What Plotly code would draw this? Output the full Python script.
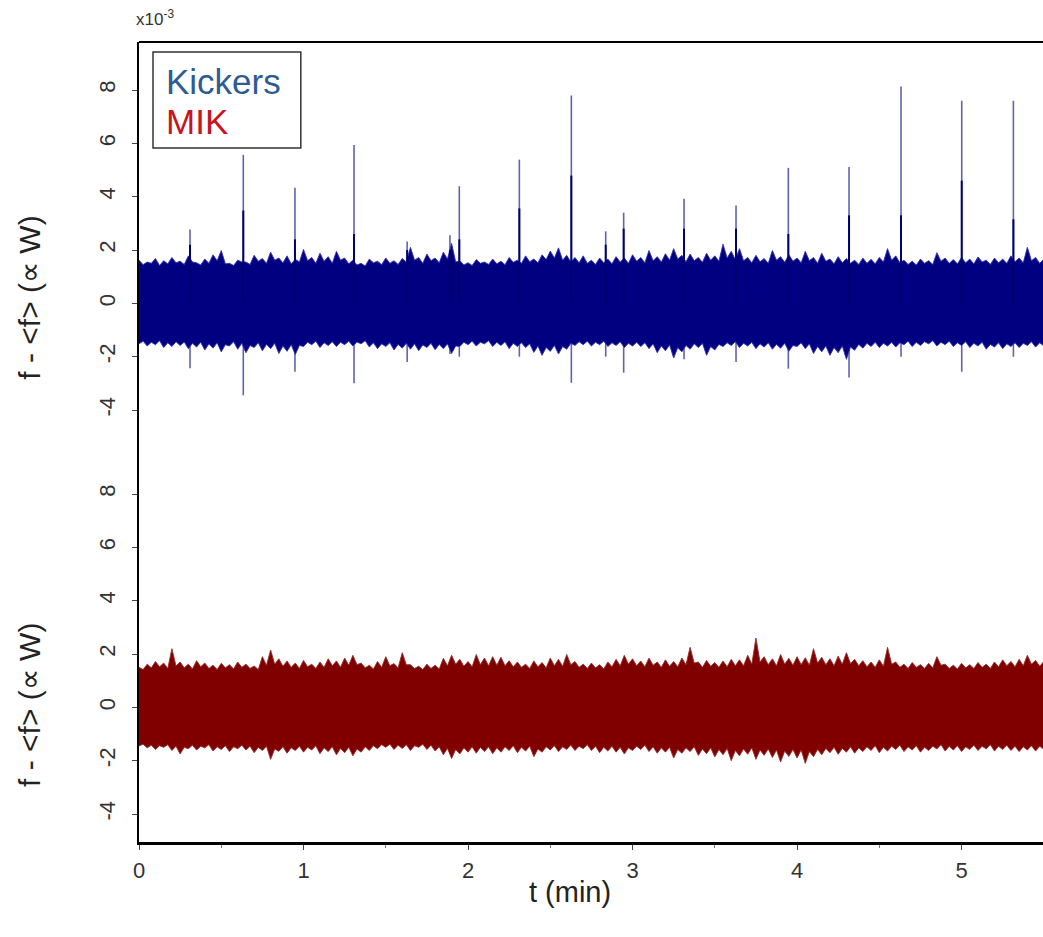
import plotly.graph_objects as go
from plotly.subplots import make_subplots

# ---------------- data (values in units of 1e-3) ----------------
T_STEP = 0.025
N_SAMPLES = 221
t_grid = [round(i * T_STEP, 3) for i in range(N_SAMPLES)]

kick_upper = [
    1.62, 1.45, 1.55, 1.50, 1.68, 1.42, 1.60, 1.48, 1.72, 1.52,
    1.58, 1.46, 1.78, 1.55, 1.52, 1.44, 1.66, 1.50, 1.82, 1.60,
    1.98, 1.48, 1.50, 1.42, 1.62, 1.55, 1.55, 1.46, 1.80, 1.58,
    1.68, 1.50, 1.92, 1.62, 1.70, 1.52, 1.78, 1.48, 1.65, 1.55,
    2.02, 1.60, 1.72, 1.50, 1.88, 1.58, 1.75, 1.50, 1.95, 1.62,
    1.70, 1.48, 1.62, 1.44, 1.50, 1.40, 1.66, 1.52, 1.58, 1.45,
    1.70, 1.50, 1.60, 1.46, 1.68, 1.55, 2.10, 1.62, 1.72, 1.50,
    1.85, 1.60, 1.70, 1.52, 1.92, 1.66, 2.25, 1.55, 1.60, 1.44,
    1.52, 1.42, 1.64, 1.50, 1.55, 1.46, 1.66, 1.48, 1.58, 1.45,
    1.72, 1.54, 1.62, 1.50, 1.78, 1.56, 1.66, 1.52, 1.82, 1.64,
    1.96, 1.70, 2.08, 1.62, 1.80, 1.55, 1.72, 1.52, 1.78, 1.50,
    1.62, 1.46, 1.70, 1.52, 1.66, 1.48, 1.75, 1.55, 1.70, 1.50,
    1.82, 1.58, 1.72, 1.52, 1.98, 1.60, 1.75, 1.55, 1.86, 1.62,
    2.05, 1.66, 1.80, 1.56, 1.85, 1.60, 1.72, 1.54, 1.88, 1.62,
    1.78, 1.58, 2.22, 1.70, 1.95, 1.64, 2.05, 1.60, 1.72, 1.52,
    1.80, 1.56, 1.68, 1.50, 1.98, 1.62, 1.75, 1.54, 1.82, 1.58,
    1.70, 1.52, 1.95, 1.60, 1.72, 1.50, 1.88, 1.58, 1.66, 1.48,
    1.75, 1.52, 1.68, 1.50, 1.62, 1.46, 1.70, 1.50, 1.65, 1.48,
    1.72, 1.55, 2.05, 1.62, 1.78, 1.52, 1.62, 1.46, 1.58, 1.44,
    1.66, 1.50, 1.60, 1.46, 1.90, 1.58, 1.70, 1.50, 1.64, 1.48,
    1.72, 1.52, 1.66, 1.48, 1.74, 1.55, 1.62, 1.46, 1.70, 1.52,
    1.66, 1.50, 1.78, 1.56, 1.70, 1.52, 2.10, 1.60, 1.72, 1.50,
    1.66]
kick_lower = [
    -1.52, -1.42, -1.60, -1.46, -1.55, -1.40, -1.66, -1.48, -1.62, -1.44,
    -1.58, -1.45, -1.70, -1.50, -1.64, -1.46, -1.75, -1.52, -1.68, -1.48,
    -1.82, -1.55, -1.60, -1.44, -1.72, -1.50, -1.85, -1.58, -1.66, -1.48,
    -1.78, -1.54, -1.70, -1.50, -1.88, -1.60, -1.80, -1.55, -1.92, -1.58,
    -1.62, -1.46, -1.55, -1.42, -1.66, -1.48, -1.58, -1.44, -1.62, -1.46,
    -1.55, -1.42, -1.60, -1.45, -1.52, -1.40, -1.64, -1.48, -1.70, -1.52,
    -1.62, -1.48, -1.75, -1.54, -1.68, -1.50, -1.72, -1.52, -1.78, -1.56,
    -1.66, -1.50, -1.74, -1.54, -1.70, -1.52, -1.88, -1.60, -1.62, -1.46,
    -1.55, -1.42, -1.60, -1.46, -1.52, -1.40, -1.62, -1.46, -1.58, -1.44,
    -1.70, -1.50, -1.62, -1.48, -1.66, -1.52, -1.84, -1.60, -1.95, -1.66,
    -1.80, -1.58, -1.90, -1.62, -1.72, -1.50, -1.58, -1.44, -1.55, -1.42,
    -1.60, -1.46, -1.55, -1.42, -1.62, -1.48, -1.58, -1.44, -1.66, -1.50,
    -1.60, -1.46, -1.62, -1.48, -1.70, -1.52, -1.85, -1.60, -1.78, -1.56,
    -2.05, -1.66, -1.82, -1.58, -1.72, -1.52, -1.66, -1.50, -1.95, -1.62,
    -1.75, -1.54, -1.62, -1.48, -1.58, -1.44, -1.66, -1.50, -1.60, -1.46,
    -1.70, -1.52, -1.64, -1.48, -1.72, -1.54, -1.68, -1.50, -1.80, -1.58,
    -1.62, -1.48, -1.70, -1.52, -1.88, -1.62, -1.82, -1.60, -1.95, -1.66,
    -1.85, -1.60, -2.10, -1.64, -1.76, -1.54, -1.68, -1.50, -1.62, -1.46,
    -1.66, -1.50, -1.60, -1.46, -1.64, -1.48, -1.55, -1.42, -1.62, -1.46,
    -1.58, -1.44, -1.52, -1.40, -1.60, -1.46, -1.55, -1.42, -1.62, -1.48,
    -1.58, -1.44, -1.66, -1.50, -1.60, -1.46, -1.72, -1.54, -1.64, -1.48,
    -1.70, -1.52, -1.62, -1.48, -1.66, -1.50, -1.58, -1.44, -1.64, -1.48,
    -1.60]

mik_upper = [
    1.50, 1.42, 1.62, 1.48, 1.72, 1.52, 1.66, 1.46, 2.20, 1.55,
    1.70, 1.48, 1.62, 1.44, 1.75, 1.52, 1.66, 1.46, 1.58, 1.42,
    1.65, 1.48, 1.60, 1.44, 1.70, 1.50, 1.62, 1.46, 1.55, 1.42,
    1.90, 1.58, 2.15, 1.62, 1.82, 1.54, 1.74, 1.50, 1.66, 1.46,
    1.76, 1.52, 1.62, 1.46, 1.70, 1.50, 1.82, 1.56, 1.74, 1.50,
    1.85, 1.58, 1.95, 1.60, 1.66, 1.48, 1.58, 1.44, 1.72, 1.50,
    1.90, 1.56, 1.64, 1.48, 2.05, 1.60, 1.60, 1.46, 1.54, 1.42,
    1.62, 1.46, 1.58, 1.44, 1.84, 1.56, 1.95, 1.62, 1.80, 1.54,
    1.72, 1.52, 1.98, 1.60, 1.85, 1.56, 1.90, 1.58, 1.88, 1.56,
    1.75, 1.52, 1.70, 1.50, 1.62, 1.46, 1.74, 1.52, 1.68, 1.48,
    1.85, 1.56, 1.80, 1.54, 1.98, 1.60, 1.72, 1.50, 1.62, 1.46,
    1.66, 1.48, 1.60, 1.44, 1.70, 1.52, 1.80, 1.56, 1.95, 1.62,
    1.82, 1.56, 1.74, 1.52, 1.85, 1.58, 1.70, 1.50, 1.78, 1.54,
    1.72, 1.52, 1.85, 1.60, 2.25, 1.66, 1.70, 1.50, 1.76, 1.54,
    1.68, 1.50, 1.74, 1.52, 1.80, 1.56, 1.78, 1.56, 1.95, 1.62,
    2.60, 1.70, 1.90, 1.60, 1.82, 1.56, 1.98, 1.62, 1.84, 1.58,
    1.90, 1.60, 1.86, 1.58, 2.20, 1.66, 1.88, 1.60, 1.82, 1.56,
    1.92, 1.62, 2.05, 1.64, 1.80, 1.56, 1.75, 1.52, 1.70, 1.50,
    1.78, 1.54, 2.25, 1.62, 1.70, 1.50, 1.62, 1.46, 1.68, 1.50,
    1.60, 1.46, 1.65, 1.48, 1.90, 1.58, 1.62, 1.46, 1.58, 1.44,
    1.65, 1.48, 1.60, 1.46, 1.68, 1.50, 1.62, 1.46, 1.70, 1.52,
    1.78, 1.56, 1.72, 1.52, 1.80, 1.56, 1.95, 1.62, 1.76, 1.54,
    1.72]
mik_lower = [
    -1.45, -1.38, -1.52, -1.42, -1.58, -1.44, -1.50, -1.40, -1.62, -1.46,
    -1.75, -1.50, -1.55, -1.42, -1.60, -1.46, -1.52, -1.40, -1.64, -1.48,
    -1.58, -1.44, -1.66, -1.48, -1.55, -1.42, -1.60, -1.46, -1.70, -1.50,
    -1.62, -1.46, -1.95, -1.56, -1.65, -1.48, -1.72, -1.52, -1.62, -1.46,
    -1.68, -1.50, -1.60, -1.44, -1.74, -1.52, -1.66, -1.48, -1.78, -1.54,
    -1.70, -1.50, -1.82, -1.56, -1.68, -1.48, -1.62, -1.44, -1.55, -1.40,
    -1.50, -1.38, -1.58, -1.42, -1.54, -1.40, -1.62, -1.44, -1.50, -1.38,
    -1.58, -1.42, -1.64, -1.48, -1.78, -1.54, -1.92, -1.58, -1.75, -1.52,
    -1.68, -1.48, -1.72, -1.50, -1.66, -1.48, -1.74, -1.52, -1.68, -1.48,
    -1.62, -1.44, -1.70, -1.50, -1.64, -1.46, -1.85, -1.56, -1.68, -1.48,
    -1.60, -1.44, -1.66, -1.48, -1.58, -1.42, -1.62, -1.46, -1.55, -1.40,
    -1.62, -1.46, -1.70, -1.50, -1.64, -1.46, -1.68, -1.50, -1.75, -1.52,
    -1.62, -1.46, -1.58, -1.42, -1.66, -1.48, -1.72, -1.52, -1.68, -1.50,
    -1.90, -1.58, -1.72, -1.52, -1.66, -1.48, -1.80, -1.56, -1.74, -1.52,
    -1.86, -1.58, -1.78, -1.54, -2.00, -1.62, -1.82, -1.56, -1.76, -1.52,
    -1.95, -1.60, -1.80, -1.56, -1.88, -1.60, -2.05, -1.64, -1.84, -1.58,
    -1.90, -1.60, -2.10, -1.66, -1.85, -1.58, -1.78, -1.54, -1.70, -1.50,
    -1.76, -1.54, -1.68, -1.48, -1.72, -1.52, -1.66, -1.48, -1.62, -1.44,
    -1.70, -1.50, -1.64, -1.46, -1.58, -1.42, -1.66, -1.48, -1.60, -1.44,
    -1.68, -1.50, -1.62, -1.46, -1.56, -1.40, -1.64, -1.46, -1.60, -1.44,
    -1.66, -1.48, -1.58, -1.42, -1.62, -1.46, -1.56, -1.40, -1.64, -1.46,
    -1.58, -1.42, -1.62, -1.46, -1.66, -1.48, -1.60, -1.44, -1.64, -1.46,
    -1.58]

# kicker spikes: time (min), peak top, darker inner top, bottom dip
spike_t     = [0.31, 0.634, 0.948, 1.307, 1.63, 1.89, 1.947, 2.312, 2.628, 2.837,
               2.946, 3.313, 3.629, 3.947, 4.316, 4.632, 5.001, 5.315]
spike_top   = [2.77, 5.57, 4.33, 5.94, 2.32, 2.55, 4.39, 5.39, 7.79, 2.70,
               3.40, 3.92, 3.67, 5.08, 5.11, 8.13, 7.60, 7.60]
spike_inner = [2.2, 3.48, 2.4, 2.6, 2.0, 2.0, 2.4, 3.56, 4.79, 2.2,
               2.8, 2.8, 2.8, 2.6, 3.30, 3.30, 4.60, 3.15]
spike_bot   = [-2.43, -3.45, -2.57, -3.00, -2.20, -1.90, -2.00, -2.00, -2.98, -2.00,
               -2.60, -2.10, -2.20, -2.45, -2.78, -2.00, -2.57, -2.00]

y_ticks = [-4, -2, 0, 2, 4, 6, 8]
y_ticktext = ["-4", "-2", "0", "2", "4", "6", "8"]
x_ticks = [0, 1, 2, 3, 4, 5]

NAVY = "rgb(0,0,128)"
MAROON = "rgb(128,0,0)"
FONT = "Liberation Sans"
TICK_SIZE = 22

fig = make_subplots(rows=2, cols=1, shared_xaxes=True, vertical_spacing=0)

# Kicker spikes (thin light lines)
sx, sy, ix, iy = [], [], [], []
for t, top, inner, bot in zip(spike_t, spike_top, spike_inner, spike_bot):
    sx += [t, t, None]
    sy += [bot, top, None]
    ix += [t, t, None]
    iy += [0, inner, None]
fig.add_trace(go.Scatter(x=sx, y=sy, mode="lines", line=dict(color="rgba(70,70,160,0.85)", width=1.6),
                         hoverinfo="skip", showlegend=False), row=1, col=1)

# bands
fig.add_trace(go.Scatter(x=t_grid + t_grid[::-1], y=kick_upper + kick_lower[::-1],
                         fill="toself", fillcolor=NAVY, mode="lines",
                         line=dict(color="rgba(50,50,175,0.9)", width=1),
                         hoverinfo="skip", showlegend=False), row=1, col=1)
fig.add_trace(go.Scatter(x=ix, y=iy, mode="lines", line=dict(color="rgb(0,0,110)", width=2),
                         hoverinfo="skip", showlegend=False), row=1, col=1)

fig.add_trace(go.Scatter(x=t_grid + t_grid[::-1], y=mik_upper + mik_lower[::-1],
                         fill="toself", fillcolor=MAROON, mode="lines",
                         line=dict(color="rgba(150,45,45,0.9)", width=1),
                         hoverinfo="skip", showlegend=False), row=2, col=1)

axis_common_y = dict(tickvals=y_ticks, ticktext=y_ticktext,
                     tickangle=-90, ticks="outside", ticklen=5, tickcolor="#444", tickwidth=1,
                     tickfont=dict(family=FONT, size=TICK_SIZE, color="#333333"),
                     showgrid=False, zeroline=False,
                     showline=True, linecolor="black", linewidth=2, ticklabelstandoff=8)

fig.update_layout(
    yaxis=dict(range=[-5.2, 9.8], **axis_common_y),
    yaxis2=dict(range=[-5.05, 9.95], **axis_common_y),
    xaxis=dict(range=[0, 5.495], showgrid=False, zeroline=False, showticklabels=False, ticks=""),
    xaxis2=dict(range=[0, 5.495], showgrid=False, zeroline=False,
                tickvals=x_ticks, ticks="outside", ticklen=5, tickcolor="#444",
                tickfont=dict(family=FONT, size=TICK_SIZE, color="#333333"),
                showline=True, linecolor="black", linewidth=3,
                minor=dict(dtick=0.5, tick0=0, ticks="outside", ticklen=3, tickcolor="#777"),
                ticklabelstandoff=2),
)

# top frame line
fig.add_shape(type="line", xref="paper", yref="paper", x0=0, x1=1.01, y0=1, y1=1,
              line=dict(color="black", width=2))

# legend box
fig.add_shape(type="rect", xref="paper", yref="paper", x0=0.0155, x1=0.179, y0=0.8675, y1=0.9875,
              line=dict(color="#333333", width=1.5), fillcolor="white")
fig.add_annotation(xref="paper", yref="paper", x=0.028, y=0.951, xanchor="left", yanchor="middle",
                   text="Kickers", showarrow=False, font=dict(family=FONT, size=35, color="#2f5b93"))
fig.add_annotation(xref="paper", yref="paper", x=0.028, y=0.9, xanchor="left", yanchor="middle",
                   text="MIK", showarrow=False, font=dict(family=FONT, size=35, color="#c8141e"))

# exponent label
fig.add_annotation(xref="paper", yref="paper", x=-0.005, y=1.03, xanchor="left", yanchor="middle",
                   text="x10<sup>-3</sup>", showarrow=False, font=dict(family=FONT, size=17, color="#333333"))

# y titles
for yy in [0.68, 0.171]:
    fig.add_annotation(xref="paper", yref="paper", x=-0.122, y=yy, xanchor="center", yanchor="middle",
                       text="f - &lt;f&gt; (∝ W)", textangle=-90, showarrow=False,
                       font=dict(family=FONT, size=30, color="#222222"))

# x title
fig.add_annotation(xref="paper", yref="paper", x=0.477, y=-0.063, xanchor="center", yanchor="middle",
                   text="t (min)", showarrow=False, font=dict(family=FONT, size=29, color="#222222"))

fig.update_layout(width=1043, height=937, margin=dict(l=139, r=0, t=42, b=95),
                  plot_bgcolor="white", paper_bgcolor="white", showlegend=False)

fig.write_html("out.html")
